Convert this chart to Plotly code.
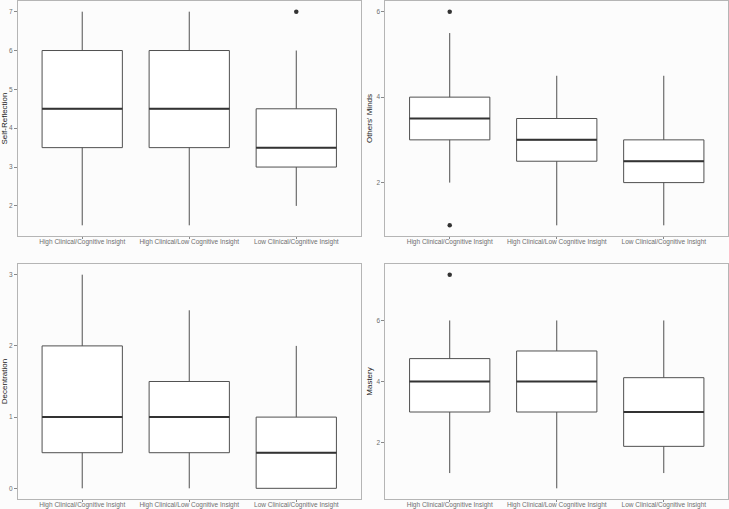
import plotly.graph_objects as go
from plotly.subplots import make_subplots

categories = ["High Clinical/Cognitive Insight", "High Clinical/Low Cognitive Insight", "Low Clinical/Cognitive Insight"]

# Self-Reflection
sr_low = [1.5, 1.5, 2.0]
sr_q1 = [3.5, 3.5, 3.0]
sr_med = [4.5, 4.5, 3.5]
sr_q3 = [6.0, 6.0, 4.5]
sr_high = [7.0, 7.0, 6.0]
sr_out_x = [2]
sr_out_y = [7.0]

# Others' Minds
om_low = [2.0, 1.0, 1.0]
om_q1 = [3.0, 2.5, 2.0]
om_med = [3.5, 3.0, 2.5]
om_q3 = [4.0, 3.5, 3.0]
om_high = [5.5, 4.5, 4.5]
om_out_x = [0, 0]
om_out_y = [6.0, 1.0]

# Decentration
de_low = [0.0, 0.0, 0.0]
de_q1 = [0.5, 0.5, 0.0]
de_med = [1.0, 1.0, 0.5]
de_q3 = [2.0, 1.5, 1.0]
de_high = [3.0, 2.5, 2.0]
de_out_x = []
de_out_y = []

# Mastery
ma_low = [1.0, 0.5, 1.0]
ma_q1 = [3.0, 3.0, 1.875]
ma_med = [4.0, 4.0, 3.0]
ma_q3 = [4.75, 5.0, 4.125]
ma_high = [6.0, 6.0, 6.0]
ma_out_x = [0]
ma_out_y = [7.5]

panels = [
    ("Self-Reflection", sr_low, sr_q1, sr_med, sr_q3, sr_high, sr_out_x, sr_out_y, 1, 1, [1.225, 7.275], 1),
    ("Others' Minds", om_low, om_q1, om_med, om_q3, om_high, om_out_x, om_out_y, 1, 2, [0.75, 6.25], 2),
    ("Decentration", de_low, de_q1, de_med, de_q3, de_high, de_out_x, de_out_y, 2, 1, [-0.15, 3.15], 1),
    ("Mastery", ma_low, ma_q1, ma_med, ma_q3, ma_high, ma_out_x, ma_out_y, 2, 2, [0.15, 7.85], 2),
]

W, H = 729, 509
ml, mr, mt, mb = 18, 1, 1, 10
fig = make_subplots(rows=2, cols=2, horizontal_spacing=0.0352, vertical_spacing=0.0562)

BOXW = 0.75
pos = [0, 1, 2]
line_col = "#505050"
med_col = "#333333"
font_fam = "Liberation Sans, Arial, sans-serif"

for (title, lo, q1, med, q3, hi, ox, oy, r, c, yr, dt) in panels:
    fig.add_trace(go.Box(x=pos, lowerfence=lo, q1=q1, median=med, q3=q3, upperfence=hi,
                         width=BOXW, whiskerwidth=0, fillcolor="white",
                         line=dict(color=line_col, width=1), boxpoints=False,
                         showlegend=False, hoverinfo="skip"), row=r, col=c)
    mx, my = [], []
    for p, m in zip(pos, med):
        mx += [p - BOXW / 2, p + BOXW / 2, None]
        my += [m, m, None]
    fig.add_trace(go.Scatter(x=mx, y=my, mode="lines", line=dict(color=med_col, width=2),
                             showlegend=False, hoverinfo="skip"), row=r, col=c)
    if ox:
        fig.add_trace(go.Scatter(x=ox, y=oy, mode="markers",
                                 marker=dict(color=med_col, size=4.5),
                                 showlegend=False, hoverinfo="skip"), row=r, col=c)
    fig.update_xaxes(range=[-0.6, 2.6], tickvals=pos, ticktext=categories, automargin=False,
                     showgrid=False, zeroline=False, showline=True, mirror=True,
                     linecolor="#B5B5B5", linewidth=1, ticks="outside", ticklen=2,
                     ticklabelstandoff=-3,
                     tickcolor="#888888", tickfont=dict(size=6.5, color="#6E6E6E", family=font_fam),
                     row=r, col=c)
    fig.update_yaxes(range=yr, dtick=dt, tick0=0, showgrid=False, zeroline=False, automargin=False,
                     showline=True, mirror=True, linecolor="#B5B5B5", linewidth=1,
                     ticks="outside", ticklen=3, tickcolor="#888888",
                     tickfont=dict(size=6.5, color="#6E6E6E", family=font_fam),
                     title=dict(text=title, font=dict(size=8, color="#222222", family=font_fam), standoff=2),
                     row=r, col=c)

fig.update_layout(width=W, height=H, margin=dict(l=ml, r=mr, t=mt, b=mb),
                  paper_bgcolor="#FCFCFC", plot_bgcolor="#FCFCFC",
                  font=dict(family=font_fam))

fig.write_html("out.html", config={"displayModeBar": False},
               post_script="document.body.style.margin='0';document.body.style.overflow='hidden';")
